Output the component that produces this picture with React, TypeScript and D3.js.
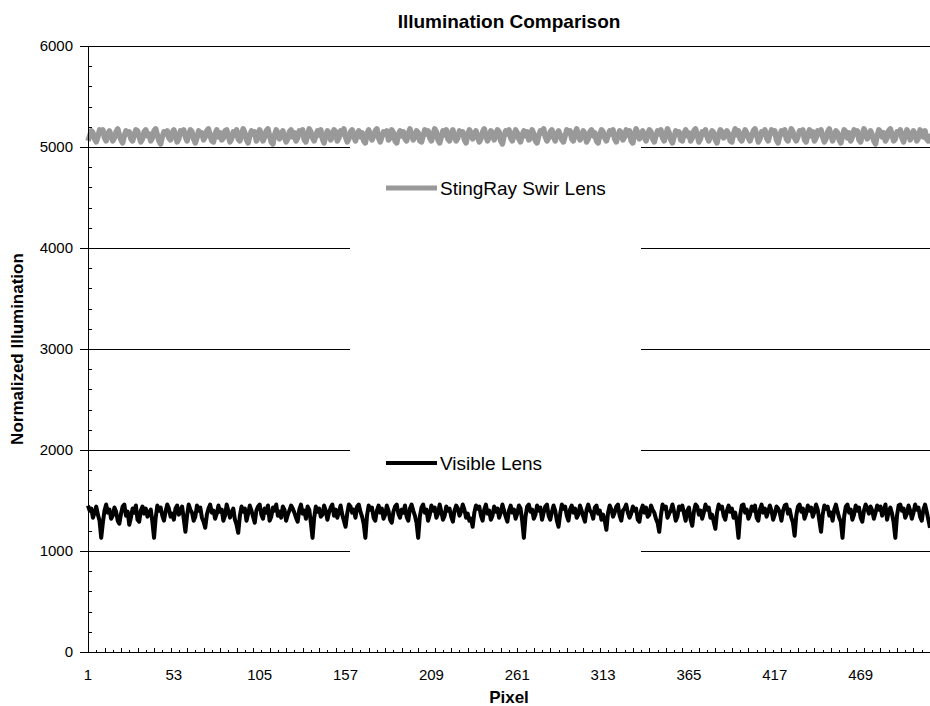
import React, { useEffect, useRef } from "react"
import * as d3 from "d3"

// values, one per pixel (1..511)
const swirLens = [
  5060,5110,5160,5140,5080,5050,5100,5170,5150,5170,5090,5060,5130,5160,5110,5060,5090,5150,5180,5120,
  5070,5040,5110,5160,5130,5150,5080,5060,5120,5170,5160,5100,5050,5080,5150,5170,5110,5130,5060,5090,
  5160,5180,5120,5060,5030,5100,5150,5130,5160,5090,5070,5140,5170,5110,5050,5080,5160,5140,5170,5100,
  5060,5120,5170,5150,5080,5040,5090,5160,5120,5140,5070,5100,5160,5180,5110,5060,5050,5130,5170,5100,
  5140,5070,5090,5160,5170,5110,5050,5080,5150,5120,5170,5080,5060,5130,5180,5140,5070,5040,5110,5160,
  5130,5150,5060,5090,5170,5120,5060,5100,5160,5180,5110,5050,5030,5120,5170,5140,5080,5110,5160,5100,
  5050,5080,5150,5170,5100,5140,5060,5090,5160,5130,5170,5070,5050,5120,5180,5150,5090,5060,5110,5160,
  5120,5170,5080,5040,5110,5160,5140,5070,5100,5170,5150,5060,5090,5160,5130,5180,5100,5050,5080,5150,
  5170,5110,5060,5120,5160,5100,5140,5060,5040,5130,5170,5120,5070,5110,5160,5180,5090,5050,5100,5150,
  5130,5160,5070,5090,5170,5140,5060,5040,5120,5160,5110,5150,5080,5060,5130,5180,5120,5070,5100,5160,
  5140,5060,5050,5110,5170,5130,5160,5090,5060,5120,5180,5150,5070,5040,5100,5160,5120,5170,5080,5060,
  5140,5170,5100,5060,5090,5160,5130,5150,5070,5040,5120,5170,5140,5080,5110,5160,5100,5050,5080,5150,
  5180,5120,5060,5100,5160,5140,5070,5110,5170,5150,5060,5030,5110,5160,5130,5170,5090,5060,5120,5170,
  5140,5080,5050,5120,5160,5110,5150,5070,5090,5170,5130,5060,5040,5110,5160,5140,5180,5100,5060,5090,
  5150,5170,5100,5060,5130,5160,5120,5070,5050,5110,5170,5140,5160,5080,5060,5130,5180,5120,5070,5100,
  5160,5130,5050,5080,5150,5170,5110,5140,5060,5040,5120,5170,5150,5090,5060,5110,5160,5130,5170,5080,
  5050,5110,5160,5140,5070,5100,5170,5120,5160,5060,5040,5130,5180,5140,5080,5110,5160,5100,5060,5120,
  5170,5150,5080,5050,5110,5160,5130,5170,5090,5060,5120,5180,5140,5070,5040,5100,5160,5130,5150,5070,
  5060,5130,5170,5110,5140,5060,5090,5160,5180,5120,5050,5080,5150,5130,5170,5100,5060,5110,5160,5140,
  5070,5040,5120,5170,5150,5090,5110,5160,5130,5060,5050,5130,5180,5120,5160,5080,5060,5120,5170,5140,
  5090,5060,5110,5160,5180,5120,5050,5080,5150,5130,5170,5090,5060,5120,5170,5140,5160,5070,5040,5110,
  5160,5130,5170,5080,5060,5120,5180,5150,5090,5060,5100,5160,5140,5170,5070,5050,5120,5170,5110,5150,
  5060,5090,5160,5130,5170,5100,5050,5080,5150,5180,5120,5060,5110,5160,5140,5070,5040,5110,5170,5150,
  5090,5140,5060,5100,5170,5130,5160,5070,5050,5120,5180,5140,5080,5110,5160,5120,5060,5030,5110,5170,
  5150,5100,5140,5060,5090,5160,5180,5120,5060,5080,5150,5130,5170,5090,5050,5120,5170,5140,5070,5110,
  5160,5130,5060,5090,5170,5140,5100,5160,5080,5060,5130
]

const visibleLens = [
  1450,1400,1420,1330,1380,1440,1360,1300,1130,1280,1400,1460,1380,1410,1320,1350,1430,1390,1300,1270,
  1370,1440,1460,1350,1390,1260,1330,1420,1380,1450,1310,1290,1400,1440,1370,1420,1340,1380,1410,1290,
  1130,1330,1450,1400,1430,1350,1300,1390,1460,1420,1340,1370,1310,1420,1450,1360,1400,1440,1320,1190,
  1350,1460,1410,1380,1300,1340,1450,1400,1430,1330,1290,1230,1360,1420,1460,1380,1400,1320,1370,1450,
  1390,1410,1300,1350,1460,1400,1330,1380,1420,1310,1260,1180,1350,1440,1390,1420,1300,1370,1450,1400,
  1340,1280,1400,1440,1460,1360,1320,1420,1380,1450,1300,1340,1430,1400,1460,1350,1390,1330,1440,1410,
  1300,1360,1400,1450,1420,1380,1330,1290,1410,1460,1370,1400,1320,1440,1410,1280,1130,1330,1440,1390,
  1420,1340,1360,1450,1400,1310,1380,1430,1460,1350,1410,1330,1390,1450,1360,1300,1240,1370,1460,1440,
  1380,1410,1330,1440,1460,1390,1340,1270,1130,1350,1450,1410,1430,1330,1300,1400,1450,1380,1420,1320,
  1360,1450,1400,1310,1280,1390,1440,1460,1370,1330,1410,1380,1450,1340,1300,1420,1460,1400,1350,1280,
  1130,1340,1430,1460,1380,1410,1300,1360,1450,1400,1430,1330,1370,1460,1390,1310,1350,1440,1400,1420,
  1340,1290,1400,1450,1420,1350,1390,1460,1410,1330,1370,1300,1320,1240,1380,1450,1420,1440,1350,1300,
  1410,1460,1370,1400,1310,1350,1440,1390,1420,1330,1380,1460,1400,1340,1290,1400,1450,1380,1410,1320,
  1370,1450,1420,1300,1130,1340,1440,1460,1390,1410,1320,1360,1450,1400,1430,1310,1380,1440,1460,1350,
  1310,1390,1450,1400,1300,1240,1370,1460,1420,1440,1350,1300,1410,1450,1380,1420,1330,1360,1450,1400,
  1340,1290,1410,1460,1400,1380,1320,1430,1450,1370,1400,1310,1360,1300,1210,1380,1450,1410,1340,1380,
  1440,1460,1350,1300,1400,1420,1460,1380,1330,1370,1440,1400,1420,1310,1290,1400,1450,1380,1430,1340,
  1360,1450,1410,1380,1320,1280,1190,1350,1460,1420,1440,1330,1370,1400,1460,1390,1300,1340,1440,1410,
  1450,1370,1300,1400,1430,1310,1250,1390,1460,1440,1360,1400,1320,1380,1460,1410,1430,1330,1360,1290,
  1220,1380,1460,1420,1440,1350,1310,1400,1450,1390,1420,1330,1380,1290,1130,1350,1450,1460,1380,1410,
  1320,1360,1440,1400,1450,1330,1300,1410,1460,1380,1420,1340,1390,1450,1400,1310,1360,1440,1420,1380,
  1300,1400,1450,1460,1370,1410,1330,1280,1150,1350,1440,1460,1390,1420,1320,1370,1450,1400,1430,1340,
  1390,1460,1410,1300,1190,1360,1450,1420,1440,1350,1380,1300,1410,1460,1390,1330,1290,1130,1340,1440,
  1460,1380,1410,1310,1360,1450,1400,1430,1330,1290,1400,1460,1420,1370,1440,1400,1320,1380,1450,1410,
  1440,1350,1400,1460,1310,1390,1430,1370,1280,1130,1350,1450,1460,1400,1420,1330,1370,1450,1400,1320,
  1380,1460,1410,1430,1340,1300,1410,1460,1390,1310,1230
]

const xTickLabels = [1, 53, 105, 157, 209, 261, 313, 365, 417, 469]
const yTickLabels = [0, 1000, 2000, 3000, 4000, 5000, 6000]
const seriesNames = ["StingRay Swir Lens", "Visible Lens"]

const W = 930, H = 706
const margin = { top: 46, right: 0, bottom: 54, left: 88 }

function App() {
  const ref = useRef<SVGSVGElement>(null)

  useEffect(() => {
    const svg = d3.select(ref.current)
    svg.selectAll("*").remove()

    const x = d3.scaleLinear()
      .domain([1, swirLens.length])
      .range([margin.left, W - margin.right])
    const y = d3.scaleLinear()
      .domain([0, 6000])
      .range([H - margin.bottom, margin.top])

    // gridlines
    svg.append("g")
      .selectAll("line")
      .data(yTickLabels.slice(1))
      .enter()
      .append("line")
      .attr("x1", margin.left).attr("x2", W - margin.right)
      .attr("y1", d => Math.round(y(d)) + 0.5).attr("y2", d => Math.round(y(d)) + 0.5)
      .attr("stroke", "#000")
      .attr("stroke-width", 1)

    // legend box (hides the grid behind it)
    svg.append("rect")
      .attr("x", 350).attr("y", 140)
      .attr("width", 291).attr("height", 418)
      .attr("fill", "#fff")

    const line = d3.line<number>()
      .x((d, i) => x(i + 1))
      .y(d => y(d))

    svg.append("path")
      .datum(swirLens)
      .attr("fill", "none")
      .attr("stroke", "#999999")
      .attr("stroke-width", 5.5)
      .attr("stroke-linejoin", "round")
      .attr("d", line)

    svg.append("path")
      .datum(visibleLens)
      .attr("fill", "none")
      .attr("stroke", "#000")
      .attr("stroke-width", 4)
      .attr("stroke-linejoin", "round")
      .attr("d", line)

    // legend entries
    const legend = svg.append("g")
      .selectAll("g")
      .data(seriesNames)
      .enter()
      .append("g")
      .attr("transform", (d, i) => "translate(386," + (i === 0 ? 188 : 463) + ")")
    legend.append("line")
      .attr("x1", 0).attr("x2", 51)
      .attr("stroke", (d, i) => i === 0 ? "#999999" : "#000")
      .attr("stroke-width", (d, i) => i === 0 ? 5 : 4)
    legend.append("text")
      .attr("x", 54)
      .attr("dy", "0.35em")
      .style("font-size", "19px")
      .text(d => d)

    // y axis
    const yAxis = svg.append("g")
    yAxis.append("line")
      .attr("x1", margin.left + 0.5).attr("x2", margin.left + 0.5)
      .attr("y1", y(6000)).attr("y2", y(0))
      .attr("stroke", "#000")
    yAxis.selectAll(".minor")
      .data(d3.range(0, 6001, 200).filter(v => v % 1000 !== 0))
      .enter()
      .append("line")
      .attr("x1", margin.left).attr("x2", margin.left + 4)
      .attr("y1", d => Math.round(y(d)) + 0.5).attr("y2", d => Math.round(y(d)) + 0.5)
      .attr("stroke", "#000")
    yAxis.selectAll(".major")
      .data(yTickLabels)
      .enter()
      .append("line")
      .attr("x1", margin.left - 8).attr("x2", margin.left)
      .attr("y1", d => Math.round(y(d)) + 0.5).attr("y2", d => Math.round(y(d)) + 0.5)
      .attr("stroke", "#000")
    yAxis.selectAll("text")
      .data(yTickLabels)
      .enter()
      .append("text")
      .attr("x", 73)
      .attr("y", d => y(d))
      .attr("dy", "0.35em")
      .attr("text-anchor", "end")
      .style("font-size", "15px")
      .text(d => d)

    // x axis
    const xAxis = svg.append("g")
    xAxis.append("line")
      .attr("x1", margin.left).attr("x2", W)
      .attr("y1", y(0) + 0.5).attr("y2", y(0) + 0.5)
      .attr("stroke", "#000")
    xAxis.selectAll(".tick")
      .data(d3.range(1, swirLens.length + 1, 5))
      .enter()
      .append("line")
      .attr("x1", d => Math.round(x(d)) + 0.5).attr("x2", d => Math.round(x(d)) + 0.5)
      .attr("y1", y(0)).attr("y2", (d, i) => y(0) - (i % 2 ? 2 : 4))
      .attr("stroke", "#000")
    xAxis.selectAll("text")
      .data(xTickLabels)
      .enter()
      .append("text")
      .attr("x", d => x(d))
      .attr("y", 675)
      .attr("dy", "0.35em")
      .attr("text-anchor", "middle")
      .style("font-size", "15px")
      .text(d => d)

    // titles
    svg.append("text")
      .attr("x", 509).attr("y", 28)
      .attr("text-anchor", "middle")
      .style("font-size", "19px")
      .style("font-weight", "bold")
      .text("Illumination Comparison")
    svg.append("text")
      .attr("x", 509).attr("y", 703)
      .attr("text-anchor", "middle")
      .style("font-size", "17px")
      .style("font-weight", "bold")
      .text("Pixel")
    svg.append("text")
      .attr("transform", "translate(23,349) rotate(-90)")
      .attr("text-anchor", "middle")
      .style("font-size", "17px")
      .style("font-weight", "bold")
      .text("Normalized Illumination")
  }, [])

  return (
    <svg
      ref={ref}
      width={W}
      height={H}
      style={{ position: "absolute", left: 0, top: 0, fontFamily: "Arial, 'Liberation Sans', sans-serif", background: "#fff" }}
    />
  )
}

export default App
